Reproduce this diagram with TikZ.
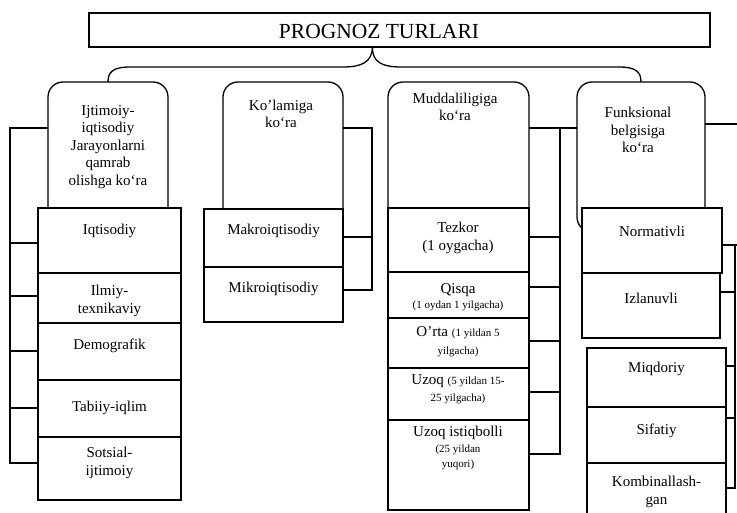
\documentclass[tikz,border=0pt]{standalone}
\usepackage{fontspec}
\setmainfont{Liberation Serif}
\usetikzlibrary{calc}
\tikzset{
  ln/.style={line width=1.3pt},
  catbox/.style={draw, line width=1.3pt, rounded corners=15pt, fill=white, inner sep=0pt, outer sep=0pt},
  subbox/.style={draw, line width=1.3pt, fill=white, inner sep=0pt, outer sep=0pt},
  txt/.style={font=\fontsize{15}{17.5}\selectfont, align=center, inner sep=0pt},
  smtxt/.style={font=\fontsize{11}{12}\selectfont, align=center, inner sep=0pt},
  ttl/.style={font=\fontsize{21.5}{24}\selectfont, inner sep=0pt}
}
\newcommand\bx[6]{\node[#2, minimum width={#5-#3}, minimum height={#6-#4}] (#1) at ({(#3+#5)/2},{(#4+#6)/2}) {};}
\newcommand\sm{\fontsize{11}{12}\selectfont}
\begin{document}
\begin{tikzpicture}[x=1pt,y=-1pt]
\useasboundingbox (0,0) rectangle (737,513);
\fill[white] (0,0) rectangle (737,513);
\clip (0,0) rectangle (737,513);

% title
\bx{top}{subbox}{89}{13}{710}{47}
\node[ttl] (ttltext) at (379,31) {PROGNOZ TURLARI};

% category boxes
\bx{c1}{catbox}{48}{82}{168}{225}
\bx{c2}{catbox}{223}{82}{343}{225}
\bx{c3}{catbox}{388}{82}{529}{230}
\bx{c4}{catbox}{577}{82}{705}{232}

% sub boxes
\bx{s11}{subbox}{38}{208}{181}{273}
\bx{s12}{subbox}{38}{273}{181}{323}
\bx{s13}{subbox}{38}{323}{181}{380}
\bx{s14}{subbox}{38}{380}{181}{437}
\bx{s15}{subbox}{38}{437}{181}{500}
\bx{s21}{subbox}{204}{209}{343}{267}
\bx{s22}{subbox}{204}{267}{343}{322}
\bx{s31}{subbox}{388}{208}{529}{272}
\bx{s32}{subbox}{388}{272}{529}{318}
\bx{s33}{subbox}{388}{318}{529}{368}
\bx{s34}{subbox}{388}{368}{529}{420}
\bx{s35}{subbox}{388}{420}{529}{510}
\bx{s41}{subbox}{582}{208}{722}{273}
\bx{s42}{subbox}{582}{273}{720}{338}
\bx{s43}{subbox}{587}{348}{726}{407}
\bx{s44}{subbox}{587}{407}{726}{463}
\bx{s45}{subbox}{587}{463}{726}{530}

% brace
\coordinate (cusp) at ([xshift=-27pt]top.south);
\draw[ln] (c1.north) .. controls (108,72) and (113,67) .. (130,67) -- (343,67) .. controls (362,67) and (372,62) .. (cusp);
\draw[ln] (c4.north) .. controls (641,72) and (636,67) .. (619,67) -- (401,67) .. controls (382,67) and (372,62) .. (cusp);

% category texts
\node[txt] (t1) at (108,147) {Ijtimoiy-\\iqtisodiy\\Jarayonlarni\\qamrab\\olishga ko‘ra};
\node[txt] (t2) at (281,114) {Ko’lamiga\\ko‘ra};
\node[txt] (t3) at (455,107) {Muddaliligiga\\ko‘ra};
\node[txt] (t4) at (638,130) {Funksional\\belgisiga\\ko‘ra};

% column 1 texts
\node[txt] at (109.5,231) {Iqtisodiy};
\node[txt] at (109.5,301) {Ilmiy-\\texnikaviy};
\node[txt] at (109.5,346) {Demografik};
\node[txt] at (109.5,408) {Tabiiy-iqlim};
\node[txt] at (109.5,463) {Sotsial-\\ijtimoiy};

% column 2 texts
\node[txt] at (273.5,231) {Makroiqtisodiy};
\node[txt] at (273.5,289) {Mikroiqtisodiy};

% column 3 texts
\node[txt] at (458,238) {Tezkor\\(1 oygacha)};
\node[txt] at (458,290) {Qisqa};
\node[smtxt] at (458,306) {(1 oydan 1 yilgacha)};
\node[txt] at (458,333) {O’rta {\sm (1 yildan 5}};
\node[smtxt] at (458,352) {yilgacha)};
\node[txt] at (458,381) {Uzoq {\sm (5 yildan 15-}};
\node[smtxt] at (458,399) {25 yilgacha)};
\node[txt] at (458,433) {Uzoq istiqbolli};
\node[smtxt] at (458,450) {(25 yildan};
\node[smtxt] at (458,465) {yuqori)};

% column 4 texts
\node[txt] at (652,231) {Normativli};
\node[txt] at (651,298) {Izlanuvli};
\node[txt] at (656.5,369) {Miqdoriy};
\node[txt] at (656.5,431) {Sifatiy};
\node[txt] at (656.5,492) {Kombinallash-\\gan};

% column 1 left bracket
\coordinate (L1top) at (10,128);
\coordinate (L1bot) at (10,463);
\draw[ln] (c1.west |- L1top) -- (L1top) -- (L1bot) -- (L1bot -| s15.west);
\foreach \n/\d in {s11/-2.5,s12/2,s13/0.5,s14/0.5} \draw[ln] ([yshift=\d pt]\n.west) -- ([yshift=\d pt]\n.west -| L1top);

% column 2 right bracket
\coordinate (R2top) at (372,128);
\coordinate (R2bot) at (372,290);
\draw[ln] (c2.east |- R2top) -- (R2top) -- (R2bot) -- (R2bot -| s22.east);
\draw[ln] ([yshift=1pt]s21.east) -- ([yshift=1pt]s21.east -| R2top);

% column 3 right bracket (shared with column 4 left)
\coordinate (R3top) at (560,128);
\coordinate (R3bot) at (560,454);
\draw[ln] (c3.east |- R3top) -- (c4.west |- R3top);
\draw[ln] (R3top) -- (R3bot) -- (R3bot -| s35.east);
\foreach \n/\d in {s31/3,s32/8,s33/2,s34/2} \draw[ln] ([yshift=\d pt]\n.east) -- ([yshift=\d pt]\n.east -| R3top);

% column 4 right bracket
\coordinate (R4a) at (745,124);
\coordinate (R4top) at (735,245);
\coordinate (R4bot) at (735,488);
\draw[ln] (c4.east |- R4a) -- (R4a);
\draw[ln] (s41.east |- R4top) -- ++(20,0);
\draw[ln] (R4top) -- (R4bot) -- (R4bot -| s45.east);
\draw[ln] (s42.east |- 0,292) -- (R4top |- 0,292);
\draw[ln] (s43.east |- 0,366) -- (R4top |- 0,366);
\draw[ln] (s44.east |- 0,418) -- (R4top |- 0,418);
\end{tikzpicture}
\end{document}
